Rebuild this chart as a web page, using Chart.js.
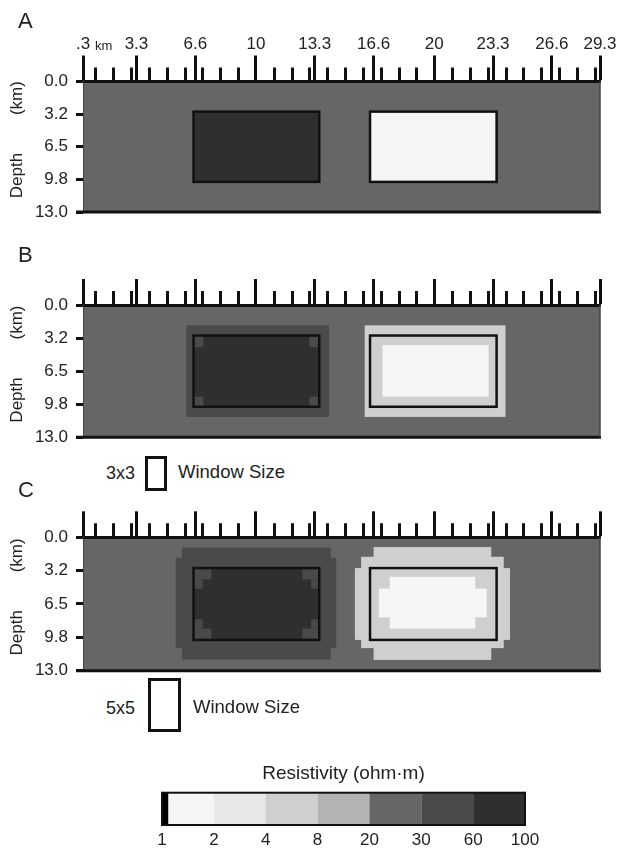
<!DOCTYPE html>
<html><head><meta charset="utf-8">
<script src="https://cdn.jsdelivr.net/npm/chart.js@4.4.1/dist/chart.umd.min.js"></script>
<style>
html,body{margin:0;padding:0;background:#fff;}
body{width:628px;height:859px;position:relative;overflow:hidden;font-family:"Liberation Sans",Arial,Helvetica,sans-serif;color:#222;}
canvas{position:absolute;left:0;}
.lbl{position:absolute;line-height:1;white-space:nowrap;z-index:2;}
.win{position:absolute;border:3px solid #111;box-sizing:border-box;z-index:2;}
</style></head><body>
<div class="lbl" style="left:18px;top:10px;font-size:22px">A</div>
<div class="lbl" style="left:18px;top:244px;font-size:22px">B</div>
<div class="lbl" style="left:18px;top:479px;font-size:22px">C</div>

<div class="lbl" style="left:106px;top:464px;font-size:18px">3x3</div>
<div class="win" style="left:145px;top:456px;width:22px;height:35px"></div>
<div class="lbl" style="left:178px;top:463px;font-size:18.5px">Window Size</div>

<div class="lbl" style="left:106px;top:699px;font-size:18px">5x5</div>
<div class="win" style="left:148px;top:678px;width:33px;height:54px"></div>
<div class="lbl" style="left:193px;top:698px;font-size:18.5px">Window Size</div>

<canvas id="cA" width="628" height="210" style="top:20px"></canvas>
<canvas id="cB" width="628" height="195" style="top:260px"></canvas>
<canvas id="cC" width="628" height="190" style="top:500px"></canvas>
<canvas id="cBar" width="628" height="99" style="top:760px"></canvas>

<script>
// ---------- data ----------
const xMajorTicks  = [0.3, 3.3, 6.6, 10, 13.3, 16.6, 20, 23.3, 26.6, 29.3];
const xMajorLabels = ['.3', '3.3', '6.6', '10', '13.3', '16.6', '20', '23.3', '26.6', '29.3'];
const xMinorTicks  = [1,2,3,4,5,6,7,8,9,11,12,13,14,15,16,17,18,19,21,22,23,24,25,26,27,28,29];
const depthTicks   = [0, 3.25, 6.5, 9.75, 13];
const depthLabels  = ['0.0', '3.2', '6.5', '9.8', '13.0'];

// resistivity colour scale (ohm·m)
const rhoLabels = ['1', '2', '4', '8', '20', '30', '60', '100'];
const rhoEdges  = [1, 2, 4, 8, 20, 30, 60, 100];
const rhoColors = ['#f5f5f5', '#e7e7e7', '#cfcfcf', '#b3b3b3', '#666666', '#4a4a4a', '#2f2f2f'];

// true anomaly outlines [x0, x1 (km), z0, z1 (km)]
const anomalyOutlines = [[6.5, 13.55, 3, 10], [16.4, 23.5, 3, 10]];

// model cells [x0, x1, z0, z1, resistivity]
const cellsA = [
  [0.3, 29.3, 0, 13, 25],
  [6.5, 13.55, 3, 10, 80],
  [16.4, 23.5, 3, 10, 1.5]
];
const cellsB = [
  [0.3, 29.3, 0, 13, 25],
  [6.1, 14.1, 2, 11, 45],
  [6.5, 13.55, 3, 10, 80],
  [6.5, 7.05, 3, 4.15, 45], [13.0, 13.55, 3, 4.15, 45],
  [6.5, 7.05, 9.0, 10, 45], [13.0, 13.55, 9.0, 10, 45],
  [16.1, 24.0, 2, 11, 6],
  [17.1, 23.05, 3.95, 9.0, 1.5]
];
const cellsC = [
  [0.3, 29.3, 0, 13, 25],
  [5.85, 14.2, 1.0, 11.9, 45],
  [5.5, 14.5, 2.0, 10.8, 45],
  [6.5, 13.55, 3, 10, 80],
  [6.5, 7.5, 3, 4.1, 45], [6.5, 7.0, 4.1, 5.0, 45],
  [12.6, 13.55, 3, 4.1, 45], [13.1, 13.55, 4.1, 5.0, 45],
  [6.5, 7.5, 8.9, 10, 45], [6.5, 7.0, 8.0, 8.9, 45],
  [12.6, 13.55, 8.9, 10, 45], [13.1, 13.55, 8.0, 8.9, 45],
  [16.6, 23.2, 0.95, 11.95, 6],
  [15.9, 23.9, 1.9, 10.8, 6],
  [15.55, 24.25, 3.0, 10.0, 6],
  [17.5, 22.3, 3.85, 8.9, 1.5],
  [16.9, 22.95, 5.0, 7.8, 1.5]
];

// ---------- drawing ----------
const FAM = '"Liberation Sans", Arial, Helvetica, sans-serif';
Chart.defaults.font.family = FAM;
Chart.defaults.color = '#222';

function rhoColor(v) {
  for (let i = 0; i < rhoEdges.length - 1; i++) {
    if (v >= rhoEdges[i] && v < rhoEdges[i + 1]) return rhoColors[i];
  }
  return rhoColors[rhoColors.length - 1];
}

const sectionPlugin = {
  id: 'section',
  beforeDraw(chart, args, o) {
    const {ctx, chartArea: a, scales: {x, y}} = chart;
    ctx.save();
    ctx.beginPath(); ctx.rect(a.left, a.top, a.right - a.left, a.bottom - a.top); ctx.clip();
    for (const c of o.cells) {
      const x0 = x.getPixelForValue(c[0]), x1 = x.getPixelForValue(c[1]);
      const y0 = y.getPixelForValue(c[2]), y1 = y.getPixelForValue(c[3]);
      ctx.fillStyle = rhoColor(c[4]);
      ctx.fillRect(Math.min(x0, x1), Math.min(y0, y1), Math.abs(x1 - x0), Math.abs(y1 - y0));
    }
    ctx.restore();
  },
  afterDraw(chart, args, o) {
    const {ctx, chartArea: a, scales: {x, y}} = chart;
    ctx.save();
    ctx.strokeStyle = '#111'; ctx.lineWidth = 2.5;
    for (const r of anomalyOutlines) {
      const x0 = x.getPixelForValue(r[0]), x1 = x.getPixelForValue(r[1]);
      const y0 = y.getPixelForValue(r[2]), y1 = y.getPixelForValue(r[3]);
      ctx.strokeRect(x0, y0, x1 - x0, y1 - y0);
    }
    ctx.lineWidth = 3; ctx.strokeStyle = '#111';
    ctx.beginPath();
    for (const v of xMinorTicks) {
      const px = Math.round(x.getPixelForValue(v)) + 0.5;
      ctx.moveTo(px, a.top); ctx.lineTo(px, a.top - 14);
    }
    ctx.stroke();
    ctx.beginPath();
    ctx.moveTo(a.left - 7, a.bottom); ctx.lineTo(a.right + 1, a.bottom);
    ctx.stroke();
    ctx.lineWidth = 1.5; ctx.strokeStyle = '#444';
    ctx.beginPath(); ctx.moveTo(a.right, a.top); ctx.lineTo(a.right, a.bottom); ctx.stroke();
    if (o.labels) {
      ctx.fillStyle = '#222'; ctx.font = '13px ' + FAM; ctx.textBaseline = 'alphabetic';
      ctx.fillText('km', x.getPixelForValue(0.3) + 12, a.top - 32);
    }
    ctx.restore();
  }
};

function makePanel(id, cells, axisH, padBottom, labels) {
  new Chart(document.getElementById(id), {
    type: 'scatter',
    data: {datasets: []},
    options: {
      responsive: false, animation: false, events: [],
      layout: {padding: {left: 0, top: 0, right: 28, bottom: padBottom}},
      plugins: {legend: {display: false}, tooltip: {enabled: false}, section: {cells, labels}},
      scales: {
        x: {
          type: 'linear', position: 'top', min: 0.3, max: 29.3,
          afterBuildTicks: s => { s.ticks = xMajorTicks.map(v => ({value: v})); },
          afterFit: s => { s.height = axisH; s.paddingLeft = 0; s.paddingRight = 0; },
          ticks: {
            autoSkip: false, maxRotation: 0, padding: 1.3,
            font: {size: 17}, color: '#222',
            callback: (v, i) => labels ? xMajorLabels[i] : ''
          },
          grid: {display: true, drawOnChartArea: false, drawTicks: true, tickLength: 26, tickWidth: 3, tickColor: '#111'},
          border: {display: true, color: '#111', width: 3}
        },
        y: {
          type: 'linear', position: 'left', min: 0, max: 13, reverse: true,
          afterBuildTicks: s => { s.ticks = depthTicks.map(v => ({value: v})); },
          afterFit: s => { s.width = 83; s.paddingTop = 0; s.paddingBottom = 0; },
          ticks: {
            autoSkip: false, padding: 8, font: {size: 17}, color: '#222',
            callback: (v, i) => depthLabels[i]
          },
          title: {display: true, text: '   Depth        (km)', font: {size: 17}, color: '#222', padding: {top: 7, bottom: 0}},
          grid: {display: true, drawOnChartArea: false, drawTicks: true, tickLength: 7, tickWidth: 3, tickColor: '#111'},
          border: {display: true, color: '#444', width: 1}
        }
      }
    },
    plugins: [sectionPlugin]
  });
}

makePanel('cA', cellsA, 61.5, 18, true);
makePanel('cB', cellsB, 45, 17.7, false);
makePanel('cC', cellsC, 37.3, 19.3, false);

const barPlugin = {
  id: 'cbar',
  beforeDraw(chart) {
    const {ctx, chartArea: a, scales: {x}} = chart;
    ctx.save();
    for (let i = 0; i < rhoColors.length; i++) {
      const x0 = x.getPixelForValue(i), x1 = x.getPixelForValue(i + 1);
      ctx.fillStyle = rhoColors[i];
      ctx.fillRect(x0, a.top, x1 - x0, a.bottom - a.top);
    }
    ctx.fillStyle = '#000';
    ctx.fillRect(x.getPixelForValue(0), a.top, x.getPixelForValue(0.12) - x.getPixelForValue(0), a.bottom - a.top);
    ctx.restore();
  },
  afterDraw(chart) {
    const {ctx, chartArea: a} = chart;
    ctx.save();
    ctx.strokeStyle = '#111'; ctx.lineWidth = 2;
    ctx.strokeRect(a.left, a.top, a.right - a.left, a.bottom - a.top);
    ctx.restore();
  }
};

new Chart(document.getElementById('cBar'), {
  type: 'scatter',
  data: {datasets: []},
  options: {
    responsive: false, animation: false, events: [],
    layout: {padding: {left: 162, right: 103, top: 0, bottom: 0}},
    plugins: {
      legend: {display: false}, tooltip: {enabled: false},
      title: {display: true, text: 'Resistivity (ohm·m)', font: {size: 19, weight: 'normal'}, color: '#222', padding: {top: 2.5, bottom: 7.4}}
    },
    scales: {
      x: {
        type: 'linear', position: 'bottom', min: 0, max: rhoLabels.length - 1,
        afterBuildTicks: s => { s.ticks = rhoLabels.map((_, i) => ({value: i})); },
        afterFit: s => { s.height = 34; s.paddingLeft = 0; s.paddingRight = 0; },
        ticks: {autoSkip: false, maxRotation: 0, padding: 5, font: {size: 17}, color: '#222', callback: (v, i) => rhoLabels[i]},
        grid: {display: false, drawTicks: false},
        border: {display: false}
      },
      y: {display: false, min: 0, max: 1}
    }
  },
  plugins: [barPlugin]
});
</script>
</body></html>
